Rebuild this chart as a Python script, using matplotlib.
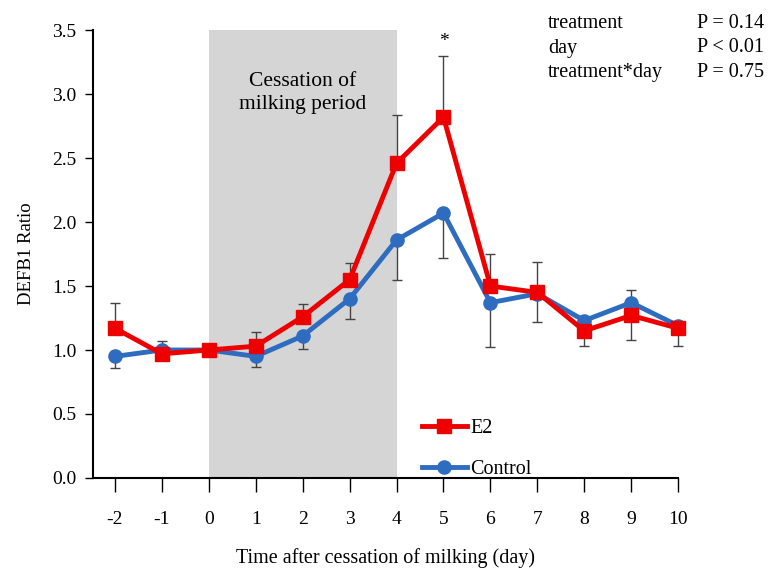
import numpy as np
import matplotlib.pyplot as plt

plt.rcParams['font.family'] = ['Liberation Serif', 'DejaVu Serif']

days = [-2, -1, 0, 1, 2, 3, 4, 5, 6, 7, 8, 9, 10]
e2 = [1.17, 0.97, 1.00, 1.03, 1.26, 1.55, 2.46, 2.82, 1.50, 1.45, 1.15, 1.27, 1.17]
control = [0.95, 1.00, 1.00, 0.95, 1.11, 1.40, 1.86, 2.07, 1.37, 1.44, 1.23, 1.37, 1.19]

# one-sided error bars (lower, upper)
e2_lo = [0, 0, 0, 0, 0, 0, 0, 0, 0, 0.23, 0, 0.19, 0]
e2_hi = [0.20, 0, 0, 0.11, 0.10, 0.13, 0.38, 0.48, 0.25, 0.24, 0, 0, 0]
ctrl_lo = [0.09, 0, 0, 0.08, 0.10, 0.16, 0.31, 0.35, 0.35, 0, 0.20, 0, 0.16]
ctrl_hi = [0, 0.07, 0, 0, 0, 0, 0, 0, 0, 0, 0, 0.10, 0]

stats_terms = ['treatment', 'day', 'treatment*day']
stats_p = ['P = 0.14', 'P < 0.01', 'P = 0.75']

red = '#EE0000'
blue = '#2E6CC0'

fig = plt.figure(figsize=(7.68, 5.68), dpi=100)
ax = fig.add_axes([0.121, 0.1585, 0.762, 0.7885])

ax.axvspan(0, 4, color='#D5D5D5', lw=0, zorder=0)
ax.text(2, 3.01, 'Cessation of\nmilking period', ha='center', va='center',
        fontsize=15.5, linespacing=1.3)

ekw = dict(fmt='none', ecolor='#444444', elinewidth=1.0, capsize=3.5,
           capthick=1.0, zorder=2, clip_on=False)
ax.errorbar(days, e2, yerr=[e2_lo, e2_hi], **ekw)
ax.errorbar(days, control, yerr=[ctrl_lo, ctrl_hi], **ekw)

ax.plot(days, control, '-o', color=blue, lw=3.5, ms=9.5, label='Control',
        zorder=3, clip_on=False)
ax.plot(days, e2, '-s', color=red, lw=3.5, ms=10, label='E2',
        zorder=4, clip_on=False)

ax.text(5, 3.41, '*', ha='center', va='center', fontsize=14)

h, l = ax.get_legend_handles_labels()
ax.legend(h[::-1], l[::-1], loc='upper left', bbox_to_anchor=(0.549, 0.149),
          frameon=False, fontsize=14.5, handlelength=2.2, handletextpad=0.2,
          labelspacing=1.05, borderaxespad=0)

ax.set_xlim(-2.47, 10)
ax.set_ylim(0, 3.5)
ax.set_xticks(days)
ax.set_xticklabels([str(d) for d in days])
ax.set_yticks(np.arange(0, 3.51, 0.5))
ax.set_yticklabels(['%.1f' % v for v in np.arange(0, 3.51, 0.5)])
ax.tick_params(axis='x', length=10, width=1, pad=14, labelsize=14)
ax.tick_params(axis='y', length=6, width=1, pad=6, labelsize=14)
for s in ['top', 'right']:
    ax.spines[s].set_visible(False)
for s in ['left', 'bottom']:
    ax.spines[s].set_linewidth(1.5)

ax.set_ylabel('DEFB1 Ratio', fontsize=13.5, labelpad=12)
ax.set_xlabel('Time after cessation of milking (day)', fontsize=14.5, labelpad=14)

for i, (t, p) in enumerate(zip(stats_terms, stats_p)):
    y = 1 - (24 + 24 * i) / 568
    fig.text(548 / 768, y, t, ha='left', va='center', fontsize=14.5)
    fig.text(697 / 768, y, p, ha='left', va='center', fontsize=14.5)

fig.savefig('out.png', dpi=100)
